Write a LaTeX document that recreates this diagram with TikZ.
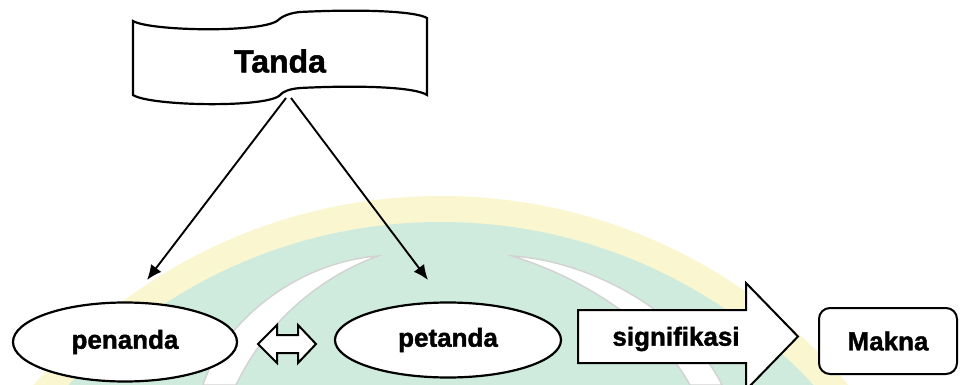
\documentclass[tikz,border=0pt]{standalone}
\usepackage{fontspec}
\setmainfont{Liberation Sans}
\newfontfamily\heavy[FakeBold=1.5]{Liberation Sans Bold}
\usetikzlibrary{shapes.geometric,arrows.meta}
\definecolor{wmgreen}{HTML}{CFEBDD}
\definecolor{wmyellow}{HTML}{FAF6CF}
\begin{document}
\begin{tikzpicture}[x=1pt,y=-1pt,
  lbl/.style={font=\heavy\fontsize{26}{30}\selectfont},
  oval/.style={draw, line width=2.2pt, fill=white, ellipse, inner sep=0pt, lbl},
  conn/.style={line width=1.9pt, -{Latex[length=15pt,width=13pt]}},
  outl/.style={draw, line width=2pt, fill=white, line join=miter},
  crescent/.style={fill=white, draw=gray!35, line width=1.4pt}]
\useasboundingbox (0,0) rectangle (961,385);
\clip (0,0) rectangle (961,385);
\fill[white] (0,0) rectangle (961,385);
% watermark
\fill[wmyellow] (441,729) circle [radius=533pt];
\fill[wmgreen] (441,729) circle [radius=507pt];
\path[crescent] (378,256) .. controls (300,262) and (225,318) .. (203,385) -- (236,385) .. controls (262,330) and (312,280) .. (378,256) -- cycle;
\path[crescent] (512,256) .. controls (600,262) and (690,320) .. (722,385) -- (690,385) .. controls (660,330) and (590,280) .. (512,256) -- cycle;
% Tanda tape shape
\draw[line width=2.2pt, fill=white] (133,21) .. controls (150,31) and (258,33) .. (277,21) .. controls (282,16) and (290,13) .. (300,12) .. controls (360,9) and (415,11) .. (427,18) -- (427,95) .. controls (415,87) and (360,85) .. (300,88) .. controls (290,89) and (283,91) .. (279,96) .. controls (262,108) and (150,106) .. (133,95) -- cycle;
\node[font=\heavy\fontsize{32}{36}\selectfont] (tanda) at (280,61) {Tanda};
% arrows from Tanda
\coordinate (ts1) at (286,98);
\coordinate (ts2) at (291,98);
\coordinate (pe1) at (147,280);
\coordinate (pt1) at (428,280);
\draw[conn] (ts1) -- (pe1);
\draw[conn] (ts2) -- (pt1);
% bottom row
\node[oval, minimum width=224pt, minimum height=79pt] (penanda) at (125,342) {penanda};
\node[oval, minimum width=226pt, minimum height=75pt] (petanda) at (448,340) {petanda};
\draw[outl] (258,344) -- (277,325) -- (277,335) -- (298,335) -- (298,325) -- (316,344) -- (298,363) -- (298,353) -- (277,353) -- (277,363) -- cycle;
\draw[outl] (578,310) -- (746,310) -- (746,283) -- (798,336.5) -- (746,390) -- (746,363) -- (578,363) -- cycle;
\node[lbl] (sig) at (676,339) {signifikasi};
\node[draw, line width=2pt, rounded corners=11pt, minimum width=138pt, minimum height=66pt, fill=white, lbl] (makna) at (888,341) {Makna};
\end{tikzpicture}
\end{document}
